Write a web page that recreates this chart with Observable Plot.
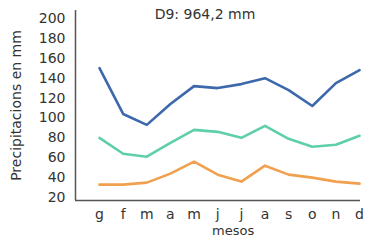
<!DOCTYPE html>
<html>
<head>
<meta charset="utf-8">
<script src="https://cdn.jsdelivr.net/npm/d3@7"></script>
<script src="https://cdn.jsdelivr.net/npm/@observablehq/plot@0.6"></script>
<style>
  html, body { margin: 0; padding: 0; background: #fff; }
  #wrap { position: relative; width: 367px; height: 241px; overflow: hidden; font-family: "DejaVu Sans", sans-serif; color: #333; }
  #title { position: absolute; left: 0; width: 410px; top: 6px; text-align: center; font-size: 14px; }
  #xlabel { position: absolute; left: 212px; top: 223px; font-size: 13px; }
</style>
</head>
<body>
<div id="wrap">
  <div id="chart"></div>
  <div id="title">D9: 964,2 mm</div>
  <div id="xlabel">mesos</div>
</div>
<script>
const months = ["g", "f", "m", "a", "m", "j", "j", "a", "s", "o", "n", "d"];
const seriesNames = ["alta", "mitjana", "baixa"];
const high = [150, 104, 93, 114, 132, 130, 134, 140, 128, 112, 135, 148];
const mid = [80, 64, 61, 75, 88, 86, 80, 92, 79, 71, 73, 82];
const low = [33, 33, 35, 44, 56, 43, 36, 52, 43, 40, 36, 34];
const yTicks = [20, 40, 60, 80, 100, 120, 140, 160, 180, 200];
const colors = ["#3d68ac", "#5ecfa9", "#f0a04e"];

const seriesValues = [high, mid, low];
const data = [];
seriesValues.forEach((vals, s) => vals.forEach((v, i) => data.push({i, v, s: seriesNames[s]})));

const chart = Plot.plot({
  width: 367,
  height: 241,
  marginLeft: 75,
  marginRight: 7,
  marginTop: 10,
  marginBottom: 41,
  style: {fontFamily: "DejaVu Sans, sans-serif", fontSize: "14px", color: "#333", background: "#fff"},
  x: {type: "linear", domain: [-1.015, 11.04], ticks: d3.range(months.length), tickFormat: i => months[i], tickSize: 0, tickPadding: 9, label: null},
  y: {domain: [17, 208], ticks: yTicks, tickSize: 0, tickPadding: 10, label: "Precipitacions en mm", labelAnchor: "center", labelArrow: "none", labelOffset: 64},
  color: {domain: seriesNames, range: colors},
  marks: [
    Plot.ruleY([17], {stroke: "#555", strokeWidth: 1.5}),
    Plot.ruleX([-1.015], {stroke: "#555", strokeWidth: 1.5}),
    Plot.line(data, {x: "i", y: "v", z: "s", stroke: "s", strokeWidth: 2.6, curve: "linear"})
  ]
});
document.getElementById("chart").appendChild(chart);
</script>
</body>
</html>
